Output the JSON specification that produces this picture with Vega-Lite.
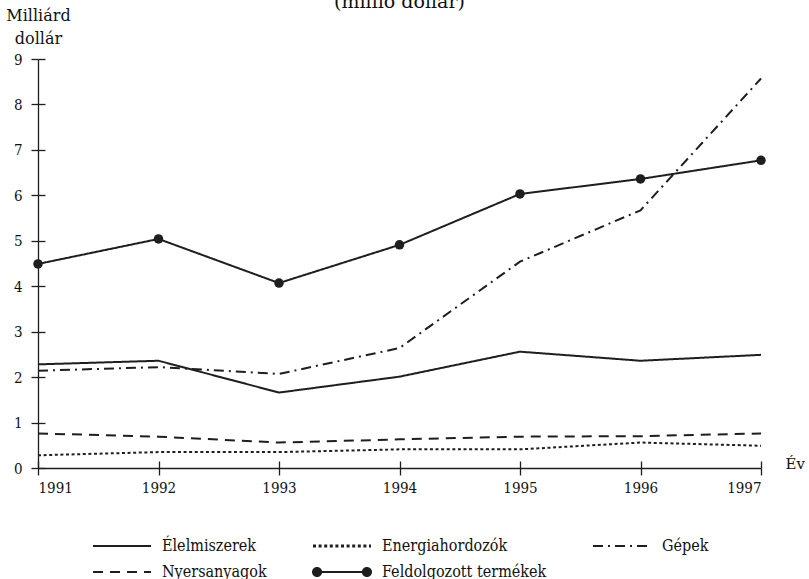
{
  "$schema": "https://vega.github.io/schema/vega-lite/v6.json",
  "width": 723,
  "height": 409,
  "autosize": "none",
  "padding": {"left": 38, "top": 59, "right": 48, "bottom": 111},
  "background": "white",
  "config": {
    "font": "DejaVu Serif Condensed",
    "view": {"stroke": null},
    "axis": {
      "grid": false,
      "domainColor": "#1e1e1e",
      "tickColor": "#1e1e1e",
      "domainWidth": 1.3,
      "tickWidth": 1.3,
      "labelColor": "#111",
      "labelFont": "DejaVu Serif Condensed",
      "labelFontSize": 15,
      "titleFont": "DejaVu Serif",
      "titleFontSize": 16,
      "titleFontWeight": "normal",
      "titleColor": "#111"
    }
  },
  "title": {
    "text": "(millió dollár)",
    "font": "DejaVu Serif",
    "fontSize": 19,
    "fontWeight": "normal",
    "color": "#111",
    "anchor": "middle",
    "baseline": "alphabetic",
    "offset": 0,
    "dy": 20
  },
  "data": {
    "values": [
      {"year": 1991, "series": "Élelmiszerek", "value": 2.28},
      {"year": 1992, "series": "Élelmiszerek", "value": 2.36},
      {"year": 1993, "series": "Élelmiszerek", "value": 1.66},
      {"year": 1994, "series": "Élelmiszerek", "value": 2.01},
      {"year": 1995, "series": "Élelmiszerek", "value": 2.56},
      {"year": 1996, "series": "Élelmiszerek", "value": 2.36},
      {"year": 1997, "series": "Élelmiszerek", "value": 2.49},
      {"year": 1991, "series": "Energiahordozók", "value": 0.28},
      {"year": 1992, "series": "Energiahordozók", "value": 0.35},
      {"year": 1993, "series": "Energiahordozók", "value": 0.35},
      {"year": 1994, "series": "Energiahordozók", "value": 0.41},
      {"year": 1995, "series": "Energiahordozók", "value": 0.41},
      {"year": 1996, "series": "Energiahordozók", "value": 0.56},
      {"year": 1997, "series": "Energiahordozók", "value": 0.49},
      {"year": 1991, "series": "Gépek", "value": 2.14},
      {"year": 1992, "series": "Gépek", "value": 2.22},
      {"year": 1993, "series": "Gépek", "value": 2.07},
      {"year": 1994, "series": "Gépek", "value": 2.64},
      {"year": 1995, "series": "Gépek", "value": 4.54},
      {"year": 1996, "series": "Gépek", "value": 5.67},
      {"year": 1997, "series": "Gépek", "value": 8.57},
      {"year": 1991, "series": "Nyersanyagok", "value": 0.76},
      {"year": 1992, "series": "Nyersanyagok", "value": 0.69},
      {"year": 1993, "series": "Nyersanyagok", "value": 0.56},
      {"year": 1994, "series": "Nyersanyagok", "value": 0.63},
      {"year": 1995, "series": "Nyersanyagok", "value": 0.69},
      {"year": 1996, "series": "Nyersanyagok", "value": 0.70},
      {"year": 1997, "series": "Nyersanyagok", "value": 0.76},
      {"year": 1991, "series": "Feldolgozott termékek", "value": 4.49},
      {"year": 1992, "series": "Feldolgozott termékek", "value": 5.04},
      {"year": 1993, "series": "Feldolgozott termékek", "value": 4.07},
      {"year": 1994, "series": "Feldolgozott termékek", "value": 4.91},
      {"year": 1995, "series": "Feldolgozott termékek", "value": 6.03},
      {"year": 1996, "series": "Feldolgozott termékek", "value": 6.36},
      {"year": 1997, "series": "Feldolgozott termékek", "value": 6.77}
    ]
  },
  "layer": [
    {
      "mark": {"type": "line", "color": "#1e1e1e", "strokeWidth": 2},
      "encoding": {
        "x": {
          "field": "year", "type": "quantitative",
          "scale": {"domain": [1991, 1997], "nice": false, "zero": false},
          "axis": {
            "orient": "bottom",
            "values": [1991, 1992, 1993, 1994, 1995, 1996, 1997],
            "format": "d",
            "tickSize": 7,
            "labelPadding": 5,
            "title": "Év",
            "titleFontSize": 15,
            "titleX": 747,
            "titleY": 0,
            "titleAlign": "left",
            "titleBaseline": "alphabetic",
            "titleAnchor": null
          }
        },
        "y": {
          "field": "value", "type": "quantitative",
          "scale": {"domain": [0, 9], "nice": false},
          "axis": {
            "orient": "left",
            "values": [0, 1, 2, 3, 4, 5, 6, 7, 8, 9],
            "tickSize": 7,
            "labelPadding": 9,
            "title": ["Milliárd", "dollár"],
            "titleAngle": 0,
            "titleX": 0,
            "titleY": -39,
            "titleAlign": "center",
            "titleBaseline": "alphabetic",
            "titleLineHeight": 23,
            "encode": {"labels": {"update": {"dy": {"signal": "datum.value === 9 ? -9 : 0"}}}}
          }
        },
        "strokeDash": {
          "field": "series", "type": "nominal",
          "scale": {
            "domain": ["Élelmiszerek", "Energiahordozók", "Gépek", "Nyersanyagok", "Feldolgozott termékek"],
            "range": [[1, 0], [3, 2.6], [10, 5, 2, 5], [10, 7], [1, 0]]
          },
          "legend": {
            "orient": "none",
            "legendX": 54,
            "legendY": 474,
            "direction": "horizontal",
            "columns": 3,
            "title": null,
            "symbolType": "stroke",
            "symbolSize": 3364,
            "symbolStrokeWidth": 2,
            "symbolStrokeColor": "#1e1e1e",
            "labelFont": "DejaVu Serif Condensed",
            "labelFontSize": 16,
            "labelColor": "#111",
            "labelOffset": 10,
            "labelLimit": 300,
            "columnPadding": 45,
            "rowPadding": 0,
            "clipHeight": 26,
            "encode": {
              "symbols": {
                "update": {
                  "shape": {"signal": "datum.value === 'Feldolgozott termékek' ? 'M-0.72,0H0.72M-1,0A0.14,0.14 0 1,0 -0.72,0A0.14,0.14 0 1,0 -1,0ZM0.72,0A0.14,0.14 0 1,0 1,0A0.14,0.14 0 1,0 0.72,0Z' : 'stroke'"},
                  "fill": {"value": "#1e1e1e"},
                  "stroke": {"value": "#1e1e1e"},
                  "strokeWidth": {"signal": "(datum.value === 'Energiahordozók' ? 3 : 2)"}
                }
              }
            }
          }
        },
        "strokeWidth": {
          "condition": {"test": "datum.series === 'Energiahordozók'", "value": 3},
          "value": 2
        }
      }
    },
    {
      "transform": [{"filter": "datum.series === 'Feldolgozott termékek'"}],
      "mark": {"type": "point", "filled": true, "size": 90, "color": "#1e1e1e", "opacity": 1},
      "encoding": {
        "x": {"field": "year", "type": "quantitative", "axis": null},
        "y": {"field": "value", "type": "quantitative", "axis": null}
      }
    },
    {
      "mark": {"type": "line", "opacity": 0},
      "encoding": {
        "x": {
          "field": "year", "type": "quantitative",
          "axis": {"orient": "bottom", "values": [1991, 1992, 1993, 1994, 1995, 1996, 1997], "tickSize": -7, "labels": false, "domain": false, "title": null}
        },
        "y": {
          "field": "value", "type": "quantitative",
          "axis": {"orient": "left", "values": [0, 1, 2, 3, 4, 5, 6, 7, 8, 9], "tickSize": -7, "labels": false, "domain": false, "title": null}
        },
        "detail": {"field": "series"}
      }
    }
  ],
  "resolve": {"axis": {"x": "independent", "y": "independent"}}
}
